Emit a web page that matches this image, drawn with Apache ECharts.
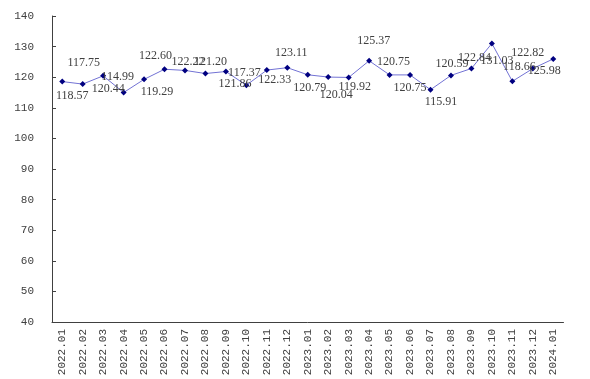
<!DOCTYPE html>
<html><head><meta charset="utf-8">
<script src="https://cdn.jsdelivr.net/npm/echarts@6/dist/echarts.min.js"></script>
<style>html,body{margin:0;padding:0;background:#fff}#c{width:590px;height:379px}</style>
</head><body><div id="c"></div>
<script>
var categories = ['2022.01','2022.02','2022.03','2022.04','2022.05','2022.06','2022.07','2022.08','2022.09','2022.10','2022.11','2022.12','2023.01','2023.02','2023.03','2023.04','2023.05','2023.06','2023.07','2023.08','2023.09','2023.10','2023.11','2023.12','2024.01'];
var values = [118.57,117.75,120.44,114.99,119.29,122.60,122.22,121.20,121.86,117.37,122.33,123.11,120.79,120.04,119.92,125.37,120.75,120.75,115.91,120.59,122.84,131.03,118.66,122.82,125.98];
var yTicks = [40,50,60,70,80,90,100,110,120,130,140];

// label placement offsets (style only)
var labelOffsets = [[10,14],[1,-21],[5,13],[-6,-16],[13,12],[-9,-13],[3,-9],[5,-12],[9,12.5],[-2,-12],[8,9.5],[4,-15],[2,13],[8,18],[6,9],[4.5,-19.5],[4,-13.5],[0,13],[10.5,12],[1,-11.5],[3,-11],[5,17],[7,-14],[-5,-16],[-9,12]];

var chart = echarts.init(document.getElementById('c'));
var font = '"Liberation Mono", monospace';
chart.setOption({
  animation: false,
  grid: {left: 52, right: 26.5, top: 16, bottom: 57},
  xAxis: {
    type: 'category', data: categories, boundaryGap: true,
    axisLine: {lineStyle: {color: '#404040', width: 1}},
    axisTick: {inside: true, length: 4, lineStyle: {color: '#404040'}},
    axisLabel: {rotate: 90, margin: 7, fontFamily: font, fontSize: 11, color: '#404040', interval: 0}
  },
  yAxis: {
    type: 'value', min: yTicks[0], max: yTicks[yTicks.length-1], interval: 10,
    axisLine: {show: true, lineStyle: {color: '#404040', width: 1}},
    axisTick: {show: true, inside: true, length: 4, lineStyle: {color: '#404040'}},
    splitLine: {show: false},
    axisLabel: {margin: 18, fontFamily: font, fontSize: 11, color: '#404040'}
  },
  series: [{
    type: 'line',
    data: values.map(function(v, i){
      return {value: v, label: {offset: labelOffsets[i]}};
    }),
    symbol: 'diamond', symbolSize: 6,
    itemStyle: {color: '#000080'},
    lineStyle: {color: '#7272d4', width: 1},
    label: {show: true, position: 'inside', fontFamily: '"Liberation Serif", serif', fontSize: 12, color: '#404040',
      formatter: function(p){ return p.value.toFixed(2); }}
  }]
});
</script></body></html>
